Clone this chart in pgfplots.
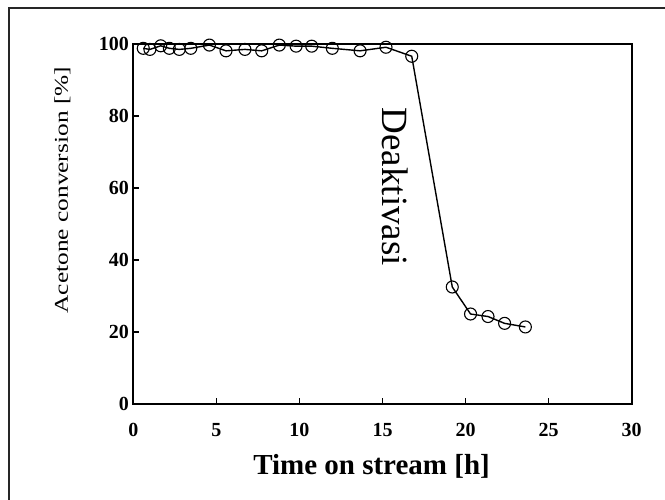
\documentclass[border=0pt]{standalone}
\usepackage{fontspec}
\setmainfont{Liberation Serif}
\usepackage{pgfplots}
\pgfplotsset{compat=1.18}
\begin{document}
\begin{tikzpicture}[x=1pt,y=1pt]
\useasboundingbox (0,0) rectangle (665,499);
\draw[line width=2pt, black!85] (9,-10) -- (9,491) -- (680,491);
\begin{axis}[
  at={(133.3pt,95pt)}, anchor=south west,
  scale only axis, width=498.4pt, height=360pt,
  xmin=0, xmax=30, ymin=0, ymax=100,
  xtick={0,5,...,30}, ytick={0,20,...,100},
  xtick pos=bottom, ytick pos=left,
  tick align=inside, major tick length=6pt,
  axis line style={line width=1.8pt},
  tick style={line width=1.4pt, black},
  /pgf/number format/assume math mode=true,
  tick label style={font=\bfseries\fontsize{20}{20}\selectfont},
  xticklabel style={yshift=-16pt},
  yticklabel style={xshift=-1pt},
  xlabel={Time on stream [h]},
  xlabel style={font=\bfseries\fontsize{29}{29}\selectfont, at={(axis description cs:0.478,-0.172)}, anchor=center},
  ylabel={\scalebox{1.3}[1]{Acetone conversion [\%]}},
  ylabel style={font=\fontsize{19.5}{19.5}\selectfont, at={(axis description cs:-0.142,0.594)}, anchor=center},
  clip=false,
]
\addplot[black, line width=1.4pt, mark=o, mark size=6pt, mark options={fill=white, line width=1.1pt}] coordinates {
(0.6,98.8) (1.0,98.5) (1.65,99.5) (2.17,98.8) (2.77,98.5) (3.46,98.8)
(4.58,99.7) (5.58,98.1) (6.72,98.5) (7.73,98.1) (8.79,99.7) (9.80,99.4)
(10.74,99.4) (11.98,98.8) (13.65,98.1) (15.21,99.1) (16.76,96.6)
(19.2,32.5) (20.3,25.0) (21.35,24.3) (22.35,22.4) (23.6,21.4)
};
\node[rotate=-90, font=\fontsize{37}{37}\selectfont] at (axis cs:15.76,60.3) {Deaktivasi};
\end{axis}
\end{tikzpicture}
\end{document}
